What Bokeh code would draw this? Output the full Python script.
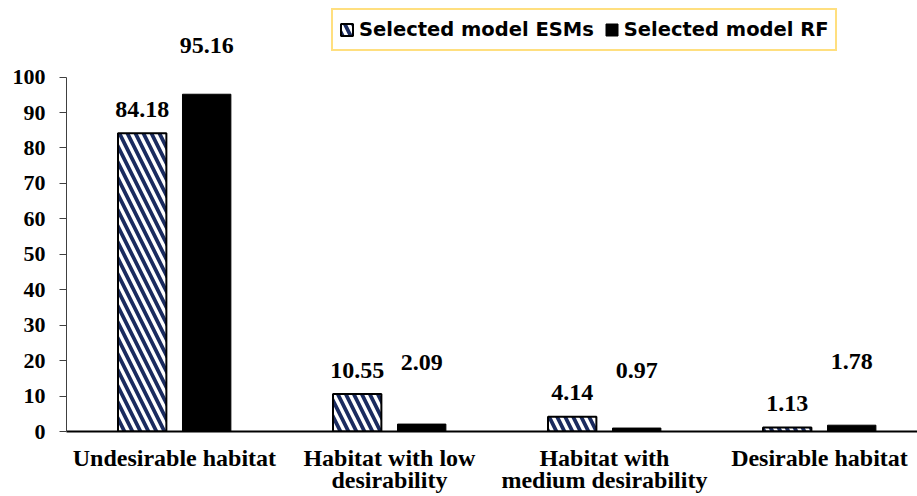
from bokeh.plotting import figure
from bokeh.models import (ColumnDataSource, Range1d, FixedTicker, Legend,
                          LegendItem, LabelSet)
from bokeh.transform import dodge
from bokeh.embed import file_html
from bokeh.resources import INLINE

# Share of area (%) in each habitat suitability class
categories = ["Undesirable habitat", "Habitat with low\ndesirability",
              "Habitat with\nmedium desirability", "Desirable habitat"]
esm_values = [84.18, 10.55, 4.14, 1.13]
rf_values = [95.16, 2.09, 0.97, 1.78]
y_ticks = [0, 10, 20, 30, 40, 50, 60, 70, 80, 90, 100]
series_names = ["Selected model ESMs", "Selected model RF"]

# how far (px) each value label floats above its bar
esm_label_lift = [24, 24, 24, 24]
rf_label_lift = [49, 62, 58, 64]

x_idx = list(range(len(categories)))
source = ColumnDataSource(dict(
    x=x_idx,
    esm=esm_values,
    rf=rf_values,
    esm_txt=[f"{v:.2f}" for v in esm_values],
    rf_txt=[f"{v:.2f}" for v in rf_values],
    esm_lift=esm_label_lift,
    rf_lift=rf_label_lift,
))

p = figure(width=917, height=496, output_backend="svg", toolbar_location=None,
           x_range=Range1d(-0.502, 3.456), y_range=Range1d(0, 120.2),
           min_border_left=66, min_border_right=0, min_border_top=5,
           min_border_bottom=65)
p.background_fill_color = "white"
p.border_fill_color = "white"
p.outline_line_color = None
p.xgrid.visible = False
p.ygrid.visible = False

serif = "Liberation Serif"
offset = 0.15
bar_w = 0.225

r_esm = p.vbar(x=dodge("x", -offset, range=p.x_range), top="esm", width=bar_w,
               source=source, fill_color="white", line_color="black",
               line_width=2, hatch_pattern="\\", hatch_color="#1a2b5f",
               hatch_scale=16, hatch_weight=3.8)
r_rf = p.vbar(x=dodge("x", offset, range=p.x_range), top="rf", width=bar_w,
              source=source, fill_color="black", line_color="black",
              line_width=1)

for col, txt, lift in (("esm", "esm_txt", "esm_lift"), ("rf", "rf_txt", "rf_lift")):
    labels = LabelSet(x=dodge("x", -offset if col == "esm" else offset, range=p.x_range),
                      y=col, text=txt, y_offset=lift, source=source,
                      text_align="center", text_baseline="middle",
                      text_font=serif, text_font_style="bold",
                      text_font_size="24px", text_color="black")
    p.add_layout(labels)

# y axis: 0..100 with outside ticks
ya = p.yaxis[0]
ya.ticker = FixedTicker(ticks=y_ticks)
ya.bounds = (0, 100)
ya.axis_line_color = "#404040"
ya.axis_line_width = 1
ya.major_tick_line_color = "#404040"
ya.major_tick_out = 7
ya.major_tick_in = 0
ya.minor_tick_line_color = None
ya.major_label_standoff = 14
ya.major_label_text_font = serif
ya.major_label_text_font_style = "bold"
ya.major_label_text_font_size = "22px"
ya.major_label_text_color = "black"

# x axis: category names under each group
xa = p.xaxis[0]
xa.ticker = FixedTicker(ticks=x_idx)
xa.major_label_overrides = {i: c for i, c in zip(x_idx, categories)}
xa.axis_line_color = "black"
xa.axis_line_width = 2
xa.major_tick_line_color = None
xa.minor_tick_line_color = None
xa.major_tick_out = 0
xa.major_tick_in = 0
xa.major_label_standoff = 13
xa.major_label_text_font = serif
xa.major_label_text_font_style = "bold"
xa.major_label_text_font_size = "24px"
xa.major_label_text_line_height = 0.87
xa.major_label_text_color = "black"

legend = Legend(items=[LegendItem(label=series_names[0], renderers=[r_esm]),
                       LegendItem(label=series_names[1], renderers=[r_rf])],
                orientation="horizontal", location=(265, 380),
                border_line_color="#FFC000", border_line_width=2,
                background_fill_color="white", background_fill_alpha=1,
                glyph_width=15, glyph_height=15, label_standoff=5,
                spacing=10, padding=6, label_height=27,
                label_text_font="DejaVu Sans", label_text_font_style="bold",
                label_text_font_size="19.5px", label_text_color="black")
p.add_layout(legend)

open("out.html", "w").write(file_html(p, INLINE))
